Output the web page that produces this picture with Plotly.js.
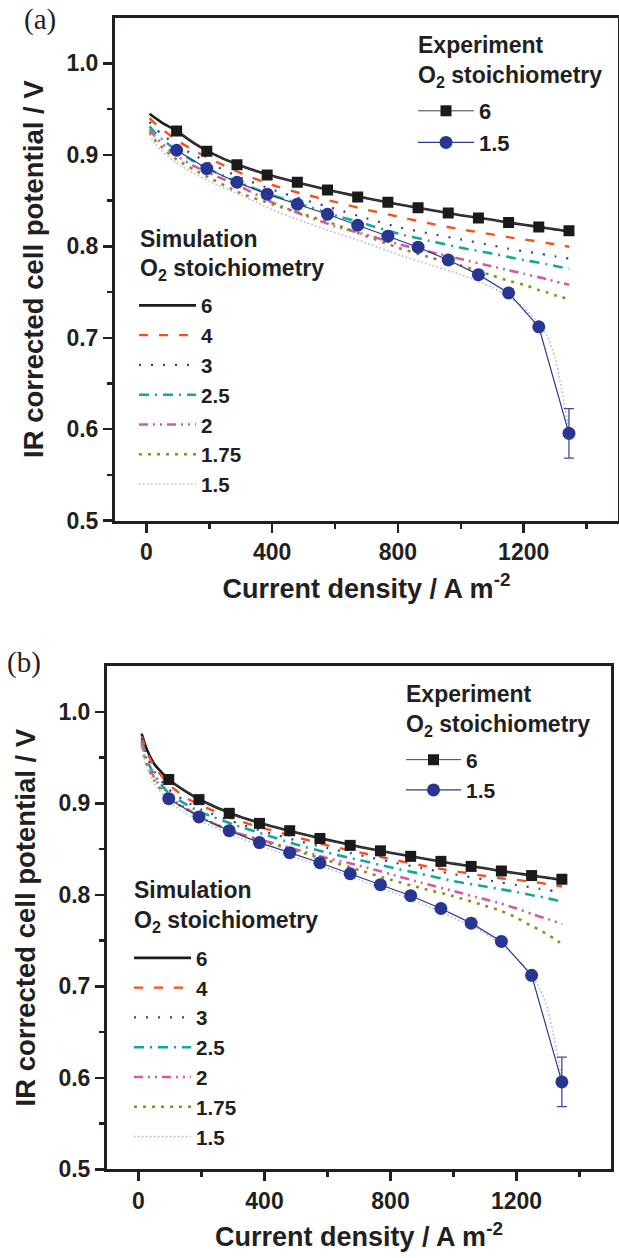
<!DOCTYPE html>
<html>
<head>
<meta charset="utf-8">
<script src="https://cdn.plot.ly/plotly-3.0.1.min.js"></script>
<style>html,body{margin:0;padding:0;background:#fff;}#chart{width:619px;height:1258px;}</style>
</head>
<body>
<div id="chart"></div>
<script>
// ---- Data ----
const stoichLabels = ['6', '4', '3', '2.5', '2', '1.75', '1.5'];
const expLabels = ['6', '1.5'];
const xTickVals = [0, 400, 800, 1200];
const xTickText = ['0', '400', '800', '1200'];
const yTickVals = [0.5, 0.6, 0.7, 0.8, 0.9, 1.0];
const yTickText = ['0.5', '0.6', '0.7', '0.8', '0.9', '1.0'];

// Experimental data (current density A m^-2, IR corrected potential V)
const xExp = [96, 192, 288, 384, 480, 576, 672, 768, 864, 960, 1056, 1152, 1248, 1344];
const vExp6 = [0.926, 0.904, 0.889, 0.878, 0.870, 0.8615, 0.854, 0.848, 0.842, 0.8365, 0.831, 0.826, 0.821, 0.817];
const vExp15 = [0.905, 0.885, 0.870, 0.857, 0.846, 0.835, 0.823, 0.811, 0.799, 0.785, 0.769, 0.749, 0.712, 0.5955];
const errExp15 = [null, null, null, null, null, null, null, null, null, null, null, null, null, 0.027];

// Simulation current densities
const xSim = [10, 25, 50, 96, 150, 200, 300, 400, 500, 600, 700, 800, 900, 1000, 1100, 1150, 1200, 1250, 1275, 1300, 1320, 1345];

// Panel (a) simulations
const simA6   = [0.945, 0.941, 0.935, 0.926, 0.913, 0.903, 0.888, 0.877, 0.868, 0.860, 0.8525, 0.846, 0.840, 0.834, 0.829, 0.826, 0.8235, 0.821, 0.8197, 0.8185, 0.8175, 0.816];
const simA4   = [0.940, 0.935, 0.928, 0.916, 0.905, 0.896, 0.880, 0.867, 0.857, 0.8485, 0.840, 0.8325, 0.825, 0.8185, 0.813, 0.810, 0.8075, 0.805, 0.8035, 0.802, 0.801, 0.7995];
const simA3   = [0.936, 0.930, 0.922, 0.911, 0.900, 0.891, 0.875, 0.862, 0.851, 0.841, 0.8305, 0.821, 0.814, 0.8075, 0.801, 0.7975, 0.7945, 0.792, 0.7905, 0.789, 0.788, 0.7865];
const simA25  = [0.931, 0.925, 0.917, 0.905, 0.893, 0.884, 0.869, 0.856, 0.845, 0.834, 0.824, 0.814, 0.806, 0.7985, 0.792, 0.7885, 0.785, 0.782, 0.7803, 0.7785, 0.777, 0.7755];
const simA2   = [0.928, 0.921, 0.912, 0.899, 0.888, 0.880, 0.865, 0.848, 0.834, 0.822, 0.8125, 0.8025, 0.794, 0.786, 0.778, 0.774, 0.770, 0.766, 0.764, 0.7615, 0.760, 0.758];
const simA175 = [0.925, 0.917, 0.908, 0.895, 0.884, 0.875, 0.858, 0.846, 0.835, 0.824, 0.811, 0.7985, 0.788, 0.779, 0.768, 0.7625, 0.758, 0.752, 0.7495, 0.7465, 0.7445, 0.742];
const simA15  = [0.922, 0.913, 0.904, 0.891, 0.880, 0.871, 0.856, 0.840, 0.827, 0.815, 0.8035, 0.791, 0.780, 0.769, 0.755, 0.745, 0.733, 0.715, 0.702, 0.678, 0.645, 0.597];

// Panel (b) simulations
const simB6   = [0.976, 0.960, 0.943, 0.926, 0.913, 0.903, 0.888, 0.877, 0.868, 0.860, 0.8525, 0.846, 0.840, 0.834, 0.829, 0.826, 0.8235, 0.821, 0.8197, 0.8185, 0.8175, 0.816];
const simB4   = [0.973, 0.957, 0.940, 0.921, 0.906, 0.8975, 0.883, 0.8725, 0.863, 0.854, 0.8465, 0.839, 0.832, 0.826, 0.8205, 0.818, 0.8163, 0.814, 0.813, 0.8115, 0.8105, 0.809];
const simB3   = [0.971, 0.953, 0.935, 0.915, 0.902, 0.893, 0.880, 0.869, 0.8595, 0.851, 0.8435, 0.836, 0.829, 0.8225, 0.8165, 0.8135, 0.8105, 0.808, 0.8065, 0.805, 0.804, 0.8025];
const simB25  = [0.968, 0.949, 0.931, 0.911, 0.899, 0.890, 0.877, 0.866, 0.855, 0.846, 0.838, 0.830, 0.8225, 0.815, 0.809, 0.806, 0.803, 0.7995, 0.798, 0.796, 0.7945, 0.7925];
const simB2   = [0.966, 0.947, 0.928, 0.907, 0.895, 0.884, 0.869, 0.859, 0.8495, 0.840, 0.832, 0.8225, 0.813, 0.804, 0.795, 0.7905, 0.785, 0.779, 0.776, 0.7735, 0.771, 0.768];
const simB175 = [0.963, 0.943, 0.925, 0.905, 0.894, 0.884, 0.869, 0.858, 0.848, 0.8375, 0.827, 0.8165, 0.807, 0.7985, 0.788, 0.7825, 0.775, 0.7655, 0.7615, 0.756, 0.752, 0.746];
const simB15  = [0.962, 0.940, 0.922, 0.902, 0.889, 0.880, 0.865, 0.852, 0.8405, 0.829, 0.8165, 0.8035, 0.790, 0.775, 0.758, 0.746, 0.731, 0.711, 0.697, 0.674, 0.642, 0.597];

// Legend headers
const expHeader = ['Experiment', 'O<sub>2</sub> stoichiometry'];
const simHeader = ['Simulation', 'O<sub>2</sub> stoichiometry'];

// ---- Styles ----
const simStyles = [
  {color: '#1c1c1c', dash: 'solid', width: 2.6},
  {color: '#f4511e', dash: '9px,11px', width: 2.4},
  {color: '#2e3f9e', dash: '2px,10px', width: 2.2},
  {color: '#12a89c', dash: '10px,6px,2px,6px', width: 2.6},
  {color: '#d25aa6', dash: '9px,5px,2px,5px,2px,5px', width: 2.6},
  {color: '#8f8f1c', dash: '3px,6px', width: 2.6},
  {color: '#aeb3dd', dash: '1.5px,2.5px', width: 1.6}
];
const FONT = "'Liberation Sans', Arial, sans-serif";
const TXT = '#231f20';

function simTraces(arrs, xa, ya, leg) {
  return arrs.map((v, i) => ({
    x: xSim, y: v, xaxis: xa, yaxis: ya, legend: leg,
    type: 'scatter', mode: 'lines', name: stoichLabels[i],
    line: {color: simStyles[i].color, dash: simStyles[i].dash, width: simStyles[i].width, shape: 'spline', smoothing: 0.6}
  }));
}
function expTraces(xa, ya, leg) {
  return [
    {x: xExp, y: vExp6, xaxis: xa, yaxis: ya, legend: leg, type: 'scatter', mode: 'lines+markers', name: expLabels[0],
     line: {color: '#444444', width: 1}, marker: {symbol: 'square', size: 11, color: '#1a1a1a'}},
    {x: xExp, y: vExp15, xaxis: xa, yaxis: ya, legend: leg, type: 'scatter', mode: 'lines+markers', name: expLabels[1],
     line: {color: '#2b3990', width: 1.2}, marker: {symbol: 'circle', size: 13, color: '#283593'},
     error_y: {type: 'data', array: errExp15, visible: true, color: '#3a4aa0', thickness: 1.3, width: 5}}
  ];
}

const data = [].concat(
  simTraces([simA6, simA4, simA3, simA25, simA2, simA175, simA15], 'x', 'y', 'legend2'),
  expTraces('x', 'y', 'legend'),
  simTraces([simB6, simB4, simB3, simB25, simB2, simB175, simB15], 'x2', 'y2', 'legend4'),
  expTraces('x2', 'y2', 'legend3')
);

function xAxis(domain, anchor) {
  return {
    domain: domain, anchor: anchor, range: [-100, 1500],
    tickmode: 'array', tickvals: xTickVals, ticktext: xTickText,
    ticks: 'outside', ticklen: 9, tickwidth: 2.5, tickcolor: '#231f20',
    minor: {tickmode: 'array', tickvals: [200, 600, 1000, 1400], ticks: 'outside', ticklen: 5, tickwidth: 2.5, tickcolor: '#231f20'},
    showline: true, linewidth: 3, linecolor: '#231f20', mirror: true,
    showgrid: false, zeroline: false,
    tickfont: {family: FONT, size: 23, color: TXT, weight: 'bold'},
    title: {text: 'Current density / A m<sup>-2</sup>', font: {family: FONT, size: 27, color: TXT, weight: 'bold'}, standoff: 15}
  };
}
function yAxis(domain, anchor) {
  return {
    domain: domain, anchor: anchor, range: [0.5, 1.05],
    tickmode: 'array', tickvals: yTickVals, ticktext: yTickText,
    ticks: 'outside', ticklen: 9, tickwidth: 2.5, tickcolor: '#231f20',
    minor: {tickmode: 'array', tickvals: [0.55, 0.65, 0.75, 0.85, 0.95], ticks: 'outside', ticklen: 5, tickwidth: 2.5, tickcolor: '#231f20'},
    showline: true, linewidth: 3, linecolor: '#231f20', mirror: true,
    showgrid: false, zeroline: false,
    tickfont: {family: FONT, size: 23, color: TXT, weight: 'bold'},
    title: {text: 'IR corrected cell potential / V', font: {family: FONT, size: 27.5, color: TXT, weight: 'bold'}, standoff: 15}
  };
}
function legendBox(x, yTop, fs, iw) {
  return {
    x: x / W, y: 1 - yTop / H, xanchor: 'left', yanchor: 'top', xref: 'paper', yref: 'paper',
    bgcolor: 'rgba(0,0,0,0)', borderwidth: 0, itemwidth: iw, tracegroupgap: 0,
    font: {family: FONT, size: fs, color: TXT, weight: 'bold'},
    itemclick: false, itemdoubleclick: false
  };
}
function header(lines, x, yMid1, yMid2) {
  return [
    {text: lines[0], x: x / W, y: 1 - yMid1 / H, xref: 'paper', yref: 'paper', xanchor: 'left', yanchor: 'middle', showarrow: false,
     font: {family: FONT, size: 23, color: TXT, weight: 'bold'}},
    {text: lines[1], x: x / W, y: 1 - yMid2 / H, xref: 'paper', yref: 'paper', xanchor: 'left', yanchor: 'middle', showarrow: false,
     font: {family: FONT, size: 23, color: TXT, weight: 'bold'}}
  ];
}

const W = 619, H = 1258;
const layout = {
  width: W, height: H,
  margin: {l: 0, r: 0, t: 0, b: 0},
  paper_bgcolor: '#ffffff', plot_bgcolor: '#ffffff',
  showlegend: true,
  font: {family: FONT, color: TXT},
  xaxis: xAxis([115 / W, 618 / W], 'y'),
  yaxis: yAxis([1 - 520.7 / H, 1 - 17.6 / H], 'x'),
  xaxis2: xAxis([107 / W, 611 / W], 'y2'),
  yaxis2: yAxis([1 - 1169.3 / H, 1 - 666 / H], 'x2'),
  legend:  legendBox(413, 90, 22, 56),
  legend2: legendBox(134, 285.5, 20.6, 57),
  legend3: legendBox(401, 739.5, 21, 55),
  legend4: legendBox(129, 938, 20.6, 57),
  annotations: [].concat(
    header(expHeader, 416, 45, 76),
    header(simHeader, 138, 239, 269),
    header(expHeader, 404, 694, 725),
    header(simHeader, 132, 890, 921),
    [
      {text: '(a)', x: 22 / W, y: 1 - 1 / H, xref: 'paper', yref: 'paper', xanchor: 'left', yanchor: 'top', showarrow: false,
       font: {family: "'Liberation Serif', 'Times New Roman', serif", size: 29, color: TXT}},
      {text: '(b)', x: 5 / W, y: 1 - 644 / H, xref: 'paper', yref: 'paper', xanchor: 'left', yanchor: 'top', showarrow: false,
       font: {family: "'Liberation Serif', 'Times New Roman', serif", size: 29, color: TXT}}
    ]
  )
};

Plotly.newPlot('chart', data, layout, {staticPlot: true, displayModeBar: false});
</script>
</body>
</html>
